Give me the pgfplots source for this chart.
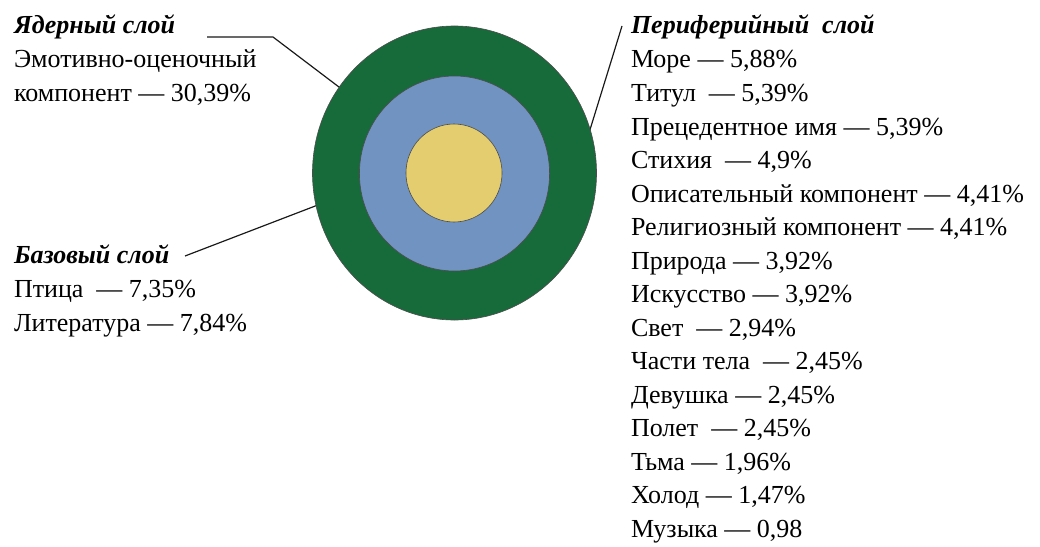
\documentclass[border=0pt]{standalone}
\usepackage{fontspec}
\setmainfont{Liberation Serif}
\usepackage{pgfplots}
\pgfplotsset{compat=1.18}
\definecolor{cgreen}{HTML}{176A3A}
\definecolor{cblue}{HTML}{7093C2}
\definecolor{cyellow}{HTML}{E3CD6F}
\tikzset{lbl/.style={font=\fontsize{26bp}{30bp}\selectfont, anchor=base west, inner sep=0pt, outer sep=0pt}}
\begin{document}
\begin{tikzpicture}
\begin{axis}[
  name=main,
  width=1040bp, height=546bp, scale only axis,
  xmin=0, xmax=1040, ymin=0, ymax=546, y dir=reverse,
  hide axis, clip=false,
]
% rings (outer to inner)
\addplot[only marks, mark=*, mark size=147bp,
  mark options={fill=cgreen, draw=black!70, line width=0.6pt, xscale=0.966}]
  coordinates {(454.5,173)};
\addplot[only marks, mark=*, mark size=97.5bp,
  mark options={fill=cblue, draw=black!70, line width=0.6pt, xscale=0.975}]
  coordinates {(454.5,173.5)};
\addplot[only marks, mark=*, mark size=49bp,
  mark options={fill=cyellow, draw=black!70, line width=0.6pt, xscale=0.98}]
  coordinates {(454,173)};
% leader lines
\addplot[black!90, line width=1.2pt] coordinates {(207,37) (273,37) (455,175)};
\addplot[black!90, line width=1.2pt] coordinates {(185,256) (396,175)};
\addplot[black!90, line width=1.2pt] coordinates {(622,26) (576,175)};
% left texts
\node[lbl] at (axis cs:14,34) {\textbf{\textit{Ядерный слой}}};
\node[lbl] at (axis cs:14,68) {Эмотивно-оценочный};
\node[lbl] at (axis cs:14,101.5) {компонент — 30,39\%};
\node[lbl] at (axis cs:14,263) {\textbf{\textit{Базовый слой}}};
\node[lbl] at (axis cs:14,297.5) {Птица \ — 7,35\%};
\node[lbl] at (axis cs:14,331) {Литература — 7,84\%};
% right texts
\node[lbl] at (axis cs:631,34) {\textbf{\textit{Периферийный \ слой}}};
\node[lbl] at (axis cs:631,68) {Море — 5,88\%};
\node[lbl] at (axis cs:631,101.5) {Титул \ — 5,39\%};
\node[lbl] at (axis cs:631,135) {Прецедентное имя — 5,39\%};
\node[lbl] at (axis cs:631,168.5) {Стихия \ — 4,9\%};
\node[lbl] at (axis cs:631,202) {Описательный компонент — 4,41\%};
\node[lbl] at (axis cs:631,235.5) {Религиозный компонент — 4,41\%};
\node[lbl] at (axis cs:631,269) {Природа — 3,92\%};
\node[lbl] at (axis cs:631,302.5) {Искусство — 3,92\%};
\node[lbl] at (axis cs:631,336) {Свет \ — 2,94\%};
\node[lbl] at (axis cs:631,369.5) {Части тела \ — 2,45\%};
\node[lbl] at (axis cs:631,403) {Девушка — 2,45\%};
\node[lbl] at (axis cs:631,436.5) {Полет \ — 2,45\%};
\node[lbl] at (axis cs:631,470) {Тьма — 1,96\%};
\node[lbl] at (axis cs:631,503.5) {Холод — 1,47\%};
\node[lbl] at (axis cs:631,537) {Музыка — 0,98};
\end{axis}
\pgfresetboundingbox
\useasboundingbox (main.south west) rectangle (main.north east);
\end{tikzpicture}
\end{document}
